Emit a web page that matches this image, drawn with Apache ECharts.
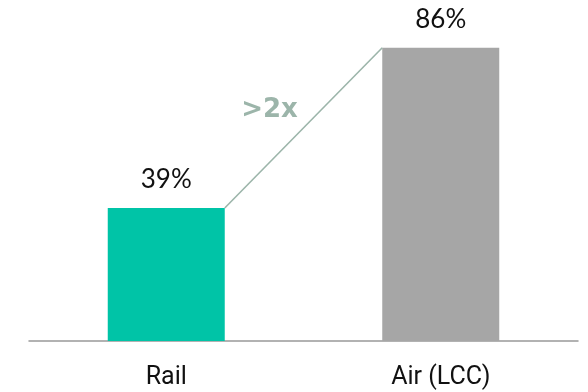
<!DOCTYPE html>
<html>
<head>
<meta charset="utf-8">
<script src="https://cdn.jsdelivr.net/npm/echarts@6/dist/echarts.min.js"></script>
<style>
  html, body { margin: 0; padding: 0; background: #fff; }
  #chart { width: 588px; height: 392px; }
</style>
</head>
<body>
<div id="chart"></div>
<script>
// Share of trips by mode
const categories = ['Rail', 'Air (LCC)'];
const values = [39, 86];
const barColors = ['#00C4A7', '#A6A6A6'];
const growthLabel = '>2x';

const BAR_WIDTH = 117;
const chart = echarts.init(document.getElementById('chart'));

chart.setOption({
  animation: false,
  grid: { left: 29, right: 10, top: 0, bottom: 51 },
  xAxis: {
    type: 'category',
    data: categories,
    axisTick: { show: false },
    axisLine: { lineStyle: { color: '#999999', width: 1.5 } },
    axisLabel: { color: '#111111', fontSize: 25, fontFamily: 'Roboto', margin: 24 }
  },
  yAxis: { type: 'value', min: 0, max: 100, show: false, splitLine: { show: false } },
  series: [
    {
      type: 'bar',
      barWidth: BAR_WIDTH,
      data: values.map((v, i) => ({ value: v, itemStyle: { color: barColors[i] } })),
      label: {
        show: true,
        position: 'top',
        distance: 15,
        formatter: p => p.value + '%',
        color: '#111111',
        fontSize: 26,
        fontFamily: 'Lato'
      },
      z: 2
    },
    {
      // connector from the top of the first bar to the top of the second
      type: 'custom',
      data: [[0, values[0], 1, values[1]]],
      z: 3,
      renderItem: (params, api) => {
        const a = api.coord([api.value(0), api.value(1)]);
        const b = api.coord([api.value(2), api.value(3)]);
        const x1 = a[0] + BAR_WIDTH / 2, y1 = a[1];
        const x2 = b[0] - BAR_WIDTH / 2, y2 = b[1];
        const mx = (x1 + x2) / 2, my = (y1 + y2) / 2;
        return {
          type: 'group',
          children: [
            {
              type: 'line',
              shape: { x1, y1, x2, y2 },
              style: { stroke: '#9CB5AA', lineWidth: 1.6 }
            },
            {
              type: 'text',
              style: {
                text: growthLabel,
                x: mx - 34,
                y: my - 18,
                align: 'center',
                verticalAlign: 'middle',
                fill: '#9CB5AA',
                fontFamily: 'DejaVu Sans',
                fontWeight: 'bold',
                fontSize: 26
              }
            }
          ]
        };
      }
    }
  ]
});
</script>
</body>
</html>
